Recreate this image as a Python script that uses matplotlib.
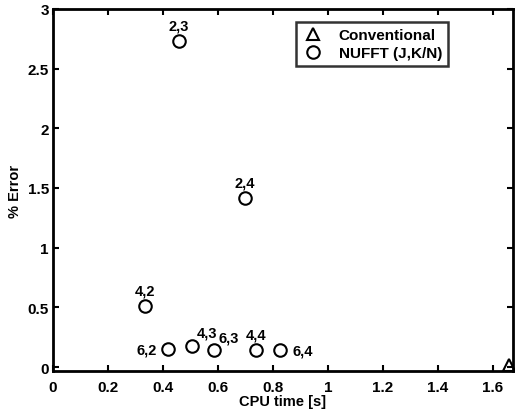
import matplotlib.pyplot as plt

plt.rcParams['font.family'] = ['Liberation Sans', 'DejaVu Sans']
plt.rcParams['font.weight'] = 'bold'

# NUFFT runs (CPU time [s], % error) with their (J, K/N) labels
nufft_time = [0.458, 0.698, 0.336, 0.417, 0.507, 0.585, 0.740, 0.824]
nufft_err = [2.73, 1.42, 0.51, 0.15, 0.18, 0.14, 0.14, 0.14]
nufft_lbl = ['2,3', '2,4', '4,2', '6,2', '4,3', '6,3', '4,4', '6,4']
# where each label sits relative to its marker
lbl_pos = ['above', 'above', 'above', 'left', 'aboveright', 'aboveright', 'above', 'right']

conv_time = [1.66]
conv_err = [0.02]

xticks = [0, 0.2, 0.4, 0.6, 0.8, 1, 1.2, 1.4, 1.6]
yticks = [0, 0.5, 1, 1.5, 2, 2.5, 3]

fig = plt.figure(figsize=(5.15, 4.14), dpi=100)
ax = fig.add_axes([0.103, 0.101, 0.893, 0.875])

ax.plot(conv_time, conv_err, linestyle='none', marker='^', markersize=8,
        markerfacecolor='none', markeredgecolor='k', markeredgewidth=1.5,
        label='Conventional', clip_on=False)
ax.plot(nufft_time, nufft_err, linestyle='none', marker='o', markersize=9,
        markerfacecolor='none', markeredgecolor='k', markeredgewidth=1.5,
        label='NUFFT (J,K/N)')

offsets = {'above': ((0, 6), 'center', 'bottom'),
           'left': ((-8, 0), 'right', 'center'),
           'right': ((9, 0), 'left', 'center'),
           'aboveright': ((3, 4), 'left', 'bottom')}
for x, y, s, p in zip(nufft_time, nufft_err, nufft_lbl, lbl_pos):
    off, ha, va = offsets[p]
    ax.annotate(s, (x, y), xytext=off, textcoords='offset points',
                ha=ha, va=va, fontsize=10.5, fontweight='bold')

ax.set_xlim(0, 1.673)
ax.set_ylim(-0.035, 3.0)
ax.set_xticks(xticks)
ax.set_xticklabels([f'{v:g}' for v in xticks])
ax.set_yticks(yticks)
ax.set_yticklabels([f'{v:g}' for v in yticks])
ax.tick_params(direction='in', top=True, right=True, length=4, width=1.5,
               labelsize=11, pad=3)
ax.tick_params(axis='x', pad=6)
for sp in ax.spines.values():
    sp.set_linewidth(2)

ax.set_xlabel('CPU time [s]', fontsize=10.5, fontweight='bold', labelpad=0)
ax.set_ylabel('% Error', fontsize=10.5, fontweight='bold', labelpad=4)

leg = ax.legend(loc='upper left', bbox_to_anchor=(0.528, 0.964), fontsize=11,
                frameon=True, fancybox=False, handletextpad=1.0,
                borderpad=0.4, labelspacing=0.25, handlelength=1.4,
                borderaxespad=0)
leg.get_frame().set_edgecolor('k')
leg.get_frame().set_linewidth(1.8)

fig.savefig('out.png', dpi=100)
